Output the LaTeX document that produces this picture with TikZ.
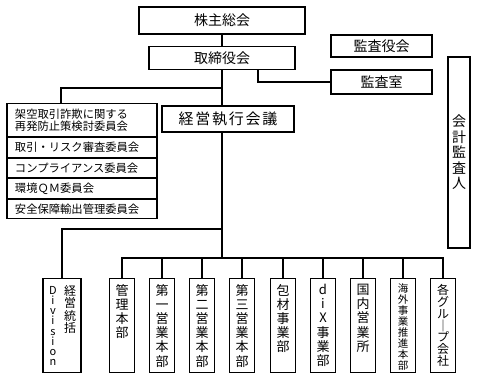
\documentclass[tikz,border=0pt]{standalone}
\usepackage{fontspec}
\setmainfont{Noto Sans CJK JP}
\usetikzlibrary{positioning}
\tikzset{
    orgbox/.style={draw, rectangle, line width=1.1pt, inner sep=0pt, align=center, font=\fontsize{14}{16}\selectfont},
    iinbox/.style={draw, rectangle, line width=1.1pt, inner xsep=8pt, inner ysep=0pt, minimum width=150pt, text width=134pt, align=left, anchor=north, font=\fontsize{11.3}{12.5}\selectfont},
    bubox/.style={draw, rectangle, line width=1.1pt, minimum width=25pt, minimum height=94pt, anchor=north, inner sep=0pt},
    tate/.style={anchor=north, inner sep=0pt, align=center, font=\fontsize{13}{14.2}\selectfont},
    link/.style={line width=1.1pt, draw=black}
}

\begin{document}
\begin{tikzpicture}[x=1pt, y=-1pt]
    \useasboundingbox (0,0) rectangle (477,382);

    % -----------------------------------------------------------------
    % TOP
    % -----------------------------------------------------------------
    \node[orgbox, minimum width=166pt, minimum height=27pt] (soukai) at (222,20.5) {株主総会};
    \node[orgbox, minimum width=146pt, minimum height=23pt] (torishimari) at (222,58) {取締役会};
    \node[orgbox, minimum width=101pt, minimum height=22pt] (kansayaku) at (381.5,46) {監査役会};
    \node[orgbox, minimum width=101pt, minimum height=24pt] (kansashitsu) at (381.5,82) {監査室};
    \node[orgbox, minimum width=132pt, minimum height=26pt, font=\fontsize{15}{17}\selectfont\addfontfeature{LetterSpace=12}] (shikkou) at (228,119) {経営執行会議};
    \node[orgbox, minimum width=22pt, minimum height=191pt, font=\fontsize{14}{15.5}\selectfont] (kaikei) at (459,152.5) {会\\計\\監\\査\\人};

    % -----------------------------------------------------------------
    % COMMITTEES
    % -----------------------------------------------------------------
    \node[iinbox, minimum height=33pt] (iin1) at (82,103) {架空取引詐欺に関する\\再発防止策検討委員会};
    \node[iinbox, minimum height=19.5pt] (iin2) at (iin1.south) {取引・リスク審査委員会};
    \node[iinbox, minimum height=19.5pt] (iin3) at (iin2.south) {コンプライアンス委員会};
    \node[iinbox, minimum height=19.5pt] (iin4) at (iin3.south) {環境ＱＭ委員会};
    \node[iinbox, minimum height=19.5pt] (iin5) at (iin4.south) {安全保障輸出管理委員会};

    % -----------------------------------------------------------------
    % DIVISIONS
    % -----------------------------------------------------------------
    \node[bubox, minimum width=38pt] (div) at (62,278) {};
    \node[tate, font=\fontsize{11}{10.2}\selectfont] (div-en) at ([xshift=-9pt,yshift=-8pt]div.north) {D\\i\\v\\i\\s\\i\\o\\n};
    \node[tate, font=\fontsize{12}{12.5}\selectfont] (div-ja) at ([xshift=8pt,yshift=-7pt]div.north) {経\\営\\統\\括};

    \foreach \nm/\xx/\txt in {kanri/122/{管\\理\\本\\部}, eigyo1/162/{第\\一\\営\\業\\本\\部}, eigyo2/202/{第\\二\\営\\業\\本\\部}, eigyo3/242/{第\\三\\営\\業\\本\\部}, houzai/283/{包\\材\\事\\業\\部}, kokunai/363/{国\\内\\営\\業\\所}} {
        \node[bubox] (\nm) at (\xx,278) {};
        \node[tate] (\nm-t) at ([yshift=-6pt]\nm.north) {\txt};
    }
    \node[bubox] (dix) at (323,278) {};
    \node[tate] (dix-t) at ([yshift=-6pt]dix.north) {d\\i\\X\\事\\業\\部};
    \node[bubox] (kaigai) at (403,278) {};
    \node[tate, font=\fontsize{10.5}{11}\selectfont] (kaigai-t) at ([yshift=-5pt]kaigai.north) {海\\外\\事\\業\\推\\進\\本\\部};
    \node[bubox] (kaku) at (443,278) {};
    \node[tate, font=\fontsize{12}{11.9}\selectfont] (kaku-t) at ([yshift=-6pt]kaku.north) {各\\グ\\ル\\｜\\プ\\会\\社};

    % -----------------------------------------------------------------
    % LINES
    % -----------------------------------------------------------------
    \coordinate (jbus) at (222,88);
    \coordinate (dbus) at (222,229);
    \coordinate (bbus) at (222,258);

    \draw[link] (soukai) -- (torishimari);
    \draw[link] (torishimari.south) -- (torishimari.south |- shikkou.north);
    \draw[link] ([xshift=36pt]torishimari.south) |- (kansashitsu.west);
    \draw[link] (jbus) -| ([xshift=-21pt]iin1.north);
    \draw[link] (shikkou.south -| torishimari.south) -- (bbus);
    \draw[link] (dbus) -| (div.north);
    \draw[link] (kanri.north) |- (kaku.north |- bbus) -- (kaku.north);
    \foreach \nm in {eigyo1, eigyo2, eigyo3, houzai, dix, kokunai, kaigai}
        \draw[link] (\nm.north) -- (\nm.north |- bbus);

\end{tikzpicture}
\end{document}
